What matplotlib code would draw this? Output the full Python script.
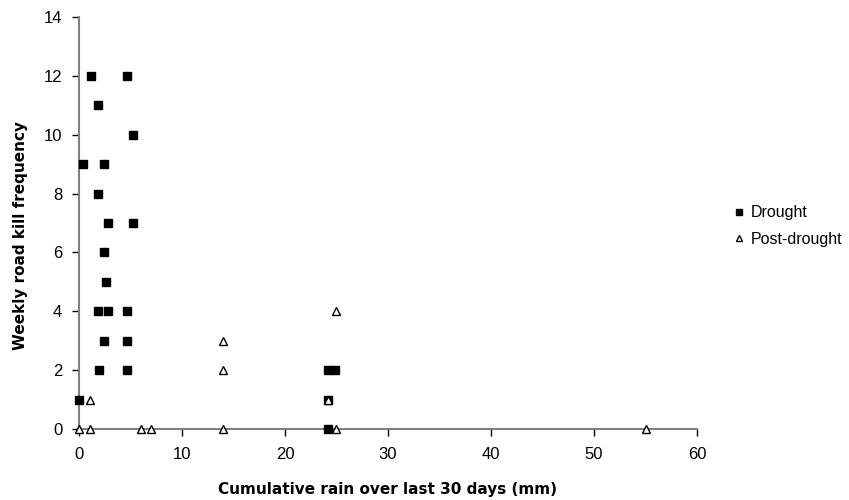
import matplotlib
matplotlib.use("Agg")
import matplotlib.pyplot as plt

plt.rcParams['font.family'] = ['Liberation Sans', 'DejaVu Sans']

drought_x = [1.2, 4.7, 1.85, 5.2, 0.35, 2.45, 1.85, 2.85, 5.2, 2.45, 2.6, 1.85, 2.85, 4.7,
             2.45, 4.7, 1.95, 4.7, 0.0, 24.2, 24.9, 24.2, 24.2]
drought_y = [12, 12, 11, 10, 9, 9, 8, 7, 7, 6, 5, 4, 4, 4,
             3, 3, 2, 2, 1, 2, 2, 1, 0]

post_x = [0.0, 1.1, 1.1, 6.0, 7.0, 14.0, 14.0, 14.0, 24.2, 25.0, 25.0, 55.0]
post_y = [0, 0, 1, 0, 0, 0, 2, 3, 1, 0, 4, 0]

x_ticks = [0, 10, 20, 30, 40, 50, 60]
y_ticks = [0, 2, 4, 6, 8, 10, 12, 14]

fig = plt.figure(figsize=(8.49, 5.0), dpi=100)
ax = fig.add_axes([0.093, 0.142, 0.728, 0.824])

ax.plot(drought_x, drought_y, linestyle='none', marker='s', markersize=5.5,
        markerfacecolor='black', markeredgecolor='black', label='Drought', zorder=3, clip_on=False)
ax.plot(post_x, post_y, linestyle='none', marker='^', markersize=5.5,
        markerfacecolor='white', markeredgecolor='black', markeredgewidth=1.0,
        label='Post-drought', zorder=4, clip_on=False)

ax.set_xlim(0, 60)
ax.set_ylim(0, 14)
ax.set_xticks(x_ticks)
ax.set_yticks(y_ticks)
ax.tick_params(axis='both', direction='out', length=5, color='black', labelsize=12, width=1)
ax.tick_params(axis='x', pad=8)
ax.tick_params(axis='y', pad=7)
ax.spines['top'].set_visible(False)
ax.spines['right'].set_visible(False)
ax.spines['left'].set_color('#808080')
ax.spines['bottom'].set_color('#808080')
ax.spines['left'].set_linewidth(1.5)
ax.spines['bottom'].set_linewidth(1.5)

label_font = dict(family='DejaVu Sans', fontsize=11, fontweight='bold')
ax.set_xlabel('Cumulative rain over last 30 days (mm)', **label_font)
ax.set_ylabel('Weekly road kill frequency', **label_font)
ax.xaxis.set_label_coords(0.5, -0.128)
ax.yaxis.set_label_coords(-0.083, 0.47)

leg = fig.legend(handles=ax.lines, loc='upper left', bbox_to_anchor=(0.855, 0.605),
                 frameon=False, fontsize=11.5, markerscale=0.75, handlelength=0.6,
                 handletextpad=0.45, labelspacing=0.7, borderpad=0.0)

fig.savefig('out.png', dpi=100)
